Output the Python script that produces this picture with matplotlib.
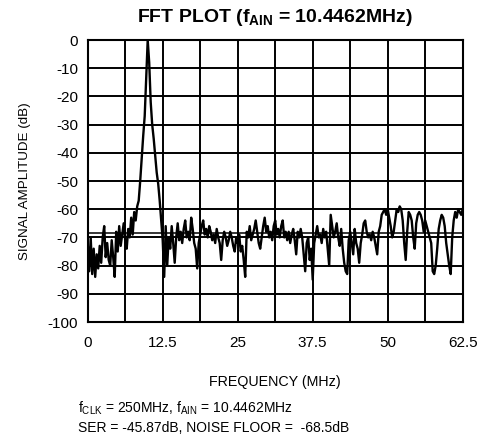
import matplotlib
matplotlib.use("Agg")
import matplotlib.pyplot as plt
from matplotlib import font_manager
import numpy as np

names = {f.name for f in font_manager.fontManager.ttflist}
narrow = "Liberation Sans Narrow" if "Liberation Sans Narrow" in names else "Liberation Sans"

plt.rcParams['font.family'] = [narrow, 'DejaVu Sans']
plt.rcParams['mathtext.fontset'] = 'custom'
plt.rcParams['mathtext.rm'] = narrow
plt.rcParams['mathtext.it'] = narrow
plt.rcParams['mathtext.bf'] = narrow + ':bold'

# ---- data (FFT bins every 0.25 MHz, 0 .. 62.5 MHz) ----
bin_step_mhz = 0.25
amplitude_db = [
    -72, -82, -70, -83, -74, -84, -76, -81, -73, -79,      # 0.0 - 2.25
    -70, -66, -77, -72, -78, -80, -71, -77, -84, -68,      # 2.5 - 4.75
    -75, -66, -73, -69, -65, -71, -74, -67, -70, -63,      # 5.0 - 7.25
    -69, -61, -64, -59, -57, -50, -42, -34, -27, -13,      # 7.5 - 9.75
    0, -8, -22, -30, -35, -41, -47, -51, -57, -64,         # 10.0 - 12.25
    -71, -84, -66, -80, -70, -74, -66, -72, -79, -70,      # 12.5 - 14.75
    -65, -71, -68, -72, -67, -64, -70, -68, -71, -63,      # 15.0 - 17.25
    -67, -72, -74, -81, -72, -69, -66, -64, -69, -67,      # 17.5 - 19.75
    -70, -66, -68, -71, -69, -72, -67, -70, -72, -78,      # 20.0 - 22.25
    -71, -68, -70, -73, -71, -68, -70, -73, -75, -70,      # 22.5 - 24.75
    -72, -69, -75, -73, -78, -84, -68, -70, -66, -71,      # 25.0 - 27.25
    -69, -67, -64, -68, -72, -74, -70, -66, -63, -68,      # 27.5 - 29.75
    -66, -70, -68, -71, -66, -64, -69, -67, -70, -66,      # 30.0 - 32.25
    -64, -70, -68, -71, -68, -72, -69, -67, -71, -76,      # 32.5 - 34.75
    -68, -70, -67, -70, -76, -82, -72, -70, -78, -74,      # 35.0 - 37.25
    -85, -72, -69, -66, -70, -69, -72, -67, -70, -68,      # 37.5 - 39.75
    -74, -80, -62, -66, -70, -68, -65, -70, -73, -67,      # 40.0 - 42.25
    -74, -79, -82, -83, -71, -68, -72, -76, -67, -72,      # 42.5 - 44.75
    -74, -79, -72, -69, -65, -64, -68, -70, -69, -71,      # 45.0 - 47.25
    -68, -70, -73, -76, -68, -66, -62, -61, -60, -62,      # 47.5 - 49.75
    -60, -63, -66, -70, -68, -64, -60, -61, -59, -60,      # 50.0 - 52.25
    -64, -72, -78, -68, -61, -62, -64, -70, -74, -65,      # 52.5 - 54.75
    -62, -61, -62, -64, -68, -64, -66, -68, -70, -72,      # 55.0 - 57.25
    -82, -83, -80, -74, -67, -64, -62, -63, -66, -72,      # 57.5 - 59.75
    -76, -80, -83, -70, -64, -61, -63, -60, -61, -62,      # 60.0 - 62.25
    -60,                                                   # 62.5
]
noise_floor_db = -68.5
x_ticks = [0, 12.5, 25, 37.5, 50, 62.5]
x_tick_labels = ["0", "12.5", "25", "37.5", "50", "62.5"]
y_ticks = [0, -10, -20, -30, -40, -50, -60, -70, -80, -90, -100]

freq_mhz = np.arange(len(amplitude_db)) * bin_step_mhz

W, H = 482, 448
fig = plt.figure(figsize=(W / 100, H / 100), dpi=100)
ax = fig.add_axes([87.7 / W, 1 - 322 / H, 375 / W, 282 / H])

ax.set_xlim(0, 62.5)
ax.set_ylim(-100, 0)
for gx in np.arange(6.25, 62.5, 6.25):
    ax.axvline(gx, color='black', lw=1.4, zorder=1)
for gy in range(-90, 0, 10):
    ax.axhline(gy, color='black', lw=1.4, zorder=1)
ax.axhline(noise_floor_db, color='black', lw=1.1, zorder=1)

ax.plot(freq_mhz, amplitude_db, color='black', lw=1.7, zorder=3)

for s in ax.spines.values():
    s.set_linewidth(1.5)
ax.set_xticks(x_ticks)
ax.set_xticklabels(x_tick_labels)
ax.set_yticks(y_ticks)
ax.set_yticklabels([str(v) for v in y_ticks])
ax.tick_params(length=0, labelsize=11, pad=7)
ax.tick_params(axis='x', pad=10)

ax.set_xlabel("FREQUENCY (MHz)", fontsize=10.3, labelpad=18)
ax.set_ylabel("SIGNAL AMPLITUDE (dB)", fontsize=9.6, labelpad=12)

fig.text(275 / W, 1 - 18 / H, r"FFT PLOT (f$_{\mathbf{AIN}}$ = 10.4462MHz)",
         ha='center', va='center', fontsize=14, fontweight='bold')
fig.text(78 / W, 1 - 408 / H, r"f$_{\rm CLK}$ = 250MHz, f$_{\rm AIN}$ = 10.4462MHz",
         ha='left', va='center', fontsize=10)
fig.text(78 / W, 1 - 428 / H, "SER = -45.87dB, NOISE FLOOR =  -68.5dB",
         ha='left', va='center', fontsize=10)

fig.savefig("out.png", dpi=100, facecolor='white')
